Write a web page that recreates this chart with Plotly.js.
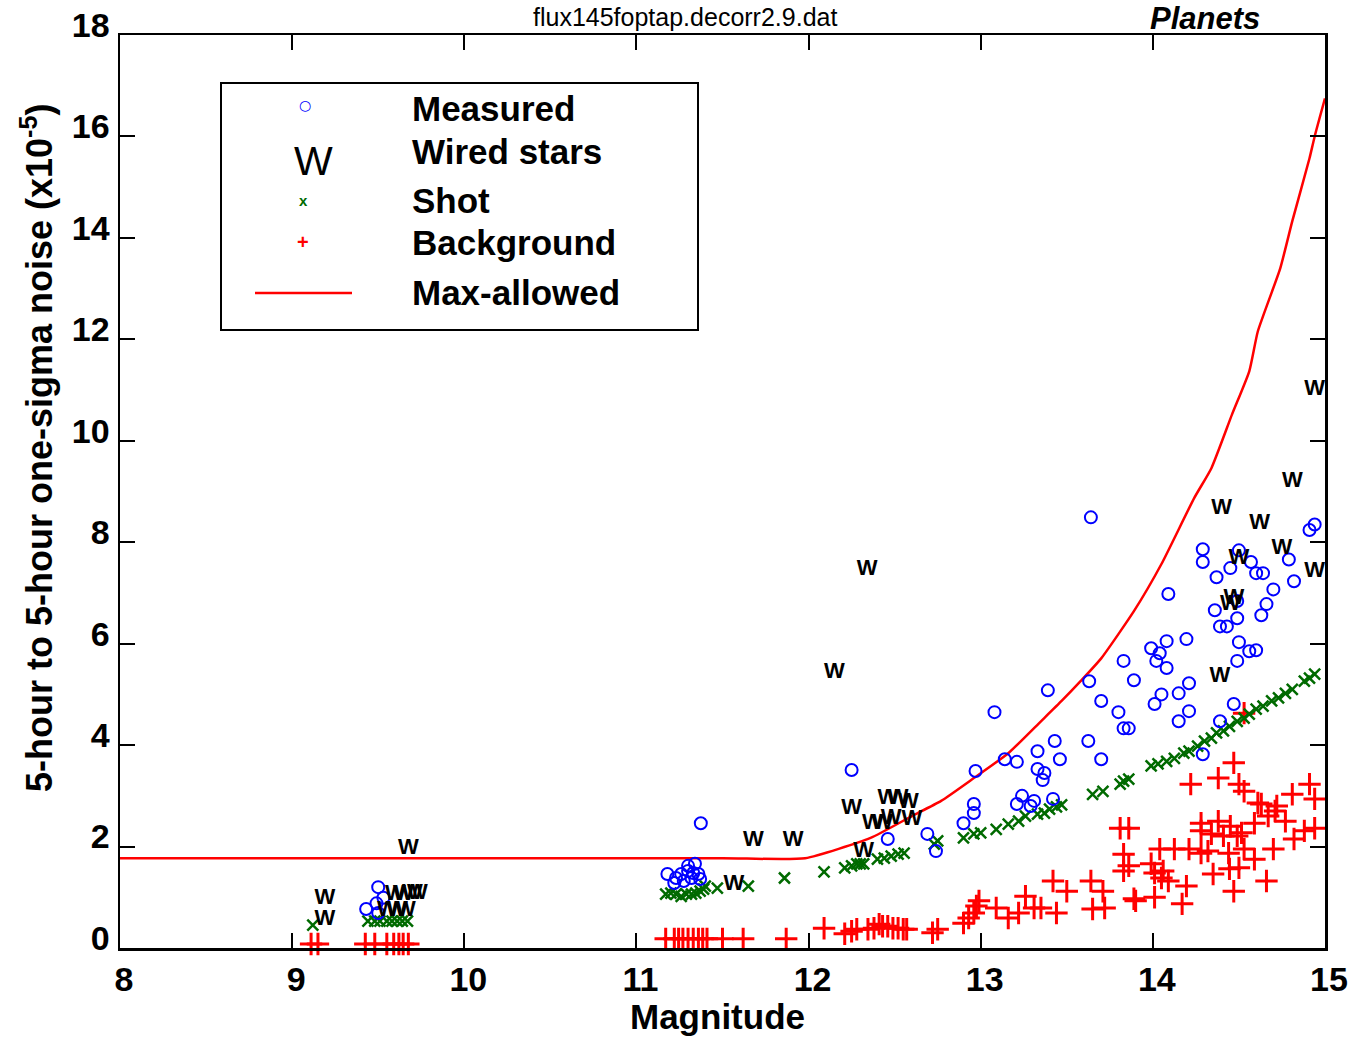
<!DOCTYPE html>
<html>
<head>
<meta charset="utf-8">
<script src="https://cdn.plot.ly/plotly-3.0.1.min.js"></script>
<style>
  html, body { margin: 0; padding: 0; background: #ffffff; }
  #plot { width: 1354px; height: 1037px; }
</style>
</head>
<body>
<div id="plot"></div>
<script>
// Measured noise per star (magnitude, noise x1e-5)
const measuredMag = [
  9.43, 9.50, 9.53, 9.49, 9.50,
  11.374, 11.18, 11.23, 11.22, 11.26, 11.275, 11.30, 11.34, 11.33, 11.36, 11.37, 11.32, 11.30,
  12.25, 12.46, 12.69, 12.74, 12.90, 12.96, 12.96, 12.97,
  13.39, 13.08, 13.70, 13.80, 13.83, 13.86, 13.63, 13.89, 13.43, 13.625, 13.33, 13.46, 13.70,
  13.14, 13.21, 13.33, 13.37, 13.36, 13.24, 13.31, 13.21, 13.29, 13.42,
  13.83, 14.02, 14.08, 14.21, 14.05, 14.01, 14.15, 14.21, 14.15, 14.47, 14.39, 14.29, 14.49, 14.56,
  14.94, 14.91, 14.29, 14.29, 14.50, 14.57, 14.45, 14.60, 14.64, 14.79, 14.82, 14.37, 14.09,
  14.70, 14.66, 14.36, 14.63, 14.39, 14.43, 14.49, 14.49, 14.08, 14.195, 13.99, 14.04, 14.50,
  14.60, 13.64
];
const measuredNoise = [
  0.77, 1.20, 0.99, 0.88, 0.69,
  2.46, 1.46, 1.38, 1.28, 1.46, 1.32, 1.62, 1.66, 1.48, 1.46, 1.36, 1.38, 1.52,
  3.51, 2.15, 2.25, 1.91, 2.46, 2.84, 2.66, 3.49,
  5.08, 4.65, 4.87, 4.65, 4.33, 4.33, 5.26, 5.28, 4.08, 4.08, 3.88, 3.72, 3.72,
  3.72, 3.67, 3.53, 3.45, 3.31, 3.00, 2.90, 2.84, 2.80, 2.94,
  5.66, 5.66, 5.52, 5.22, 5.00, 4.81, 5.02, 4.67, 4.47, 4.81, 4.47, 3.82, 5.66, 5.85,
  8.35, 8.24, 7.86, 7.61, 7.84, 7.61, 7.49, 7.39, 7.39, 7.66, 7.23, 7.31, 6.98,
  7.07, 6.78, 6.66, 6.56, 6.34, 6.34, 6.50, 6.84, 6.05, 6.09, 5.91, 5.81, 6.03,
  5.87, 8.49
];

// Wired stars
const wiredMag = [
  9.675, 9.19, 9.19, 9.600, 9.646, 9.699, 9.728, 9.553, 9.611, 9.658,
  11.68, 11.91, 11.566,
  12.34, 12.15,
  12.25, 12.46, 12.52, 12.58, 12.37, 12.43, 12.48, 12.60, 12.32,
  14.39, 14.94, 14.81, 14.40, 14.62, 14.75, 14.94, 14.50, 14.47, 14.45
];
const wiredNoise = [
  1.97, 0.97, 0.57, 1.06, 1.06, 1.08, 1.08, 0.73, 0.73, 0.73,
  2.11, 2.11, 1.26,
  7.47, 5.44,
  2.76, 2.94, 2.94, 2.86, 2.46, 2.46, 2.56, 2.54, 1.91,
  5.36, 11.01, 9.20, 8.67, 8.37, 7.88, 7.43, 7.68, 6.90, 6.78
];

// Shot-noise component
const shotMag = [
  9.12, 9.44, 9.48, 9.51, 9.55, 9.58, 9.61, 9.64, 9.67,
  11.17, 11.20, 11.23, 11.26, 11.29, 11.32, 11.345, 11.37, 11.39, 11.40, 11.47, 11.65, 11.86, 12.09,
  12.21, 12.25, 12.28, 12.30, 12.32, 12.40, 12.44, 12.48, 12.52, 12.555, 12.73, 12.75, 12.90, 12.96,
  13.00, 13.09, 13.16, 13.22, 13.26, 13.33, 13.37, 13.40, 13.44, 13.47, 13.65, 13.71, 13.81, 13.83, 13.86,
  13.99, 14.03, 14.08, 14.125, 14.18, 14.21, 14.26, 14.30, 14.34, 14.37, 14.41, 14.445, 14.49, 14.53,
  14.56, 14.60, 14.64, 14.69, 14.73, 14.77, 14.81, 14.88, 14.91, 14.94
];
const shotNoise = [
  0.45, 0.53, 0.53, 0.53, 0.53, 0.53, 0.53, 0.53, 0.53,
  1.06, 1.08, 1.06, 1.02, 1.06, 1.06, 1.08, 1.12, 1.16, 1.22, 1.18, 1.22, 1.38, 1.50,
  1.58, 1.62, 1.66, 1.66, 1.66, 1.75, 1.77, 1.81, 1.85, 1.87, 2.05, 2.11, 2.17, 2.25,
  2.27, 2.34, 2.44, 2.50, 2.60, 2.64, 2.66, 2.74, 2.78, 2.82, 3.03, 3.09, 3.23, 3.29, 3.33,
  3.59, 3.63, 3.68, 3.74, 3.84, 3.88, 3.98, 4.08, 4.14, 4.24, 4.28, 4.37, 4.47, 4.53,
  4.61, 4.71, 4.77, 4.87, 4.93, 5.02, 5.10, 5.26, 5.32, 5.40
];

// Background-noise component
const backgroundMag = [
  9.11, 9.15, 9.425, 9.48, 9.55, 9.59, 9.62, 9.645, 9.675,
  11.17, 11.22, 11.245, 11.27, 11.30, 11.33, 11.36, 11.385, 11.41, 11.50, 11.62, 11.87, 12.09,
  12.21, 12.25, 12.28, 12.345, 12.38, 12.41, 12.43, 12.46, 12.49, 12.52, 12.55, 12.57, 12.72, 12.75,
  12.90, 12.93, 12.96, 12.975, 12.99,
  13.09, 13.16, 13.22, 13.26, 13.31, 13.35, 13.42, 13.44, 13.50, 13.64, 13.71, 13.65, 13.72,
  13.81, 13.86, 13.83, 13.86, 13.83, 13.90,
  14.53, 14.47, 14.38, 14.22, 14.50, 14.53, 14.61, 14.63, 14.72, 14.81, 14.91, 14.94,
  14.59, 14.67, 14.71, 14.77, 14.28, 14.38, 14.45, 14.28, 14.34, 14.41, 14.49, 14.515,
  14.82, 14.88, 14.94, 14.04, 14.125, 14.21, 14.28, 14.32, 14.44, 14.53, 14.59, 14.70,
  13.99, 14.01, 14.06, 14.09, 14.05, 14.195, 14.35, 14.445, 14.50, 14.66, 14.47, 14.01, 13.89, 14.17
];
const backgroundNoise = [
  0.08, 0.08, 0.08, 0.08, 0.08, 0.08, 0.08, 0.08, 0.08,
  0.18, 0.18, 0.18, 0.18, 0.18, 0.18, 0.18, 0.18, 0.18, 0.18, 0.18, 0.18, 0.39,
  0.28, 0.33, 0.37, 0.37, 0.39, 0.47, 0.43, 0.43, 0.39, 0.39, 0.37, 0.37, 0.30, 0.37,
  0.49, 0.59, 0.69, 0.83, 0.93,
  0.79, 0.59, 0.69, 1.02, 0.79, 0.79, 1.32, 0.69, 1.12, 1.32, 1.12, 0.77, 0.79,
  2.36, 2.36, 1.85, 1.62, 1.52, 0.93,
  4.63, 3.65, 3.35, 3.23, 3.23, 3.09, 2.86, 2.84, 2.80, 3.03, 3.23, 2.94,
  2.46, 2.60, 2.70, 2.50, 2.46, 2.50, 2.40, 2.31, 2.25, 2.21, 2.21, 2.27,
  2.15, 2.31, 2.36, 1.95, 1.95, 1.95, 1.87, 1.91, 1.87, 1.95, 1.75, 1.95,
  1.66, 1.48, 1.52, 1.32, 1.38, 1.22, 1.46, 1.56, 1.58, 1.32, 1.12, 1.00, 0.97, 0.87
];

// Maximum allowed noise curve
const maxAllowedMag = [
  8.00, 11.50, 11.98, 12.36, 12.60, 12.77, 12.96, 13.16, 13.35, 13.47, 13.58, 13.70, 13.89,
  14.05, 14.24, 14.34, 14.46, 14.56, 14.61, 14.74, 14.81, 14.91, 14.94, 15.00
];
const maxAllowedNoise = [
  1.77, 1.77, 1.77, 2.17, 2.60, 2.90, 3.35, 3.84, 4.47, 4.87, 5.26, 5.71, 6.64,
  7.57, 8.87, 9.46, 10.52, 11.37, 12.16, 13.40, 14.33, 15.57, 16.00, 16.75
];

// Legend entries and texts
const legendLabels = ['Measured', 'Wired stars', 'Shot', 'Background', 'Max-allowed'];
const chartTitle = 'flux145foptap.decorr2.9.dat';
const cornerLabel = 'Planets';
const xTitle = 'Magnitude';
const yTitle = '5-hour to 5-hour one-sigma noise (x10<sup>-5</sup>)';

// Plot-area frame in page pixels, used to place legend and labels
const L = 120, R = 1325, T = 35, B = 948;
const px = x => (x - L) / (R - L);
const py = y => (B - y) / (B - T);

const FONT = 'Liberation Sans, Arial, sans-serif';
const BLUE = '#0000ff', GREEN = '#006a00', RED = '#ff0000';

const traces = [
  {
    x: maxAllowedMag, y: maxAllowedNoise, mode: 'lines', name: legendLabels[4],
    line: { color: RED, width: 2.5, shape: 'spline', smoothing: 0.5 }, showlegend: false, hoverinfo: 'skip'
  },
  {
    x: backgroundMag, y: backgroundNoise, mode: 'markers', name: legendLabels[3],
    marker: { symbol: 'cross-thin-open', size: 16, color: RED, line: { color: RED, width: 3 } },
    showlegend: false, cliponaxis: false
  },
  {
    x: shotMag, y: shotNoise, mode: 'markers', name: legendLabels[2],
    marker: { symbol: 'x-thin-open', size: 11, color: GREEN, line: { color: GREEN, width: 2.5 } },
    showlegend: false
  },
  {
    x: measuredMag, y: measuredNoise, mode: 'markers', name: legendLabels[0],
    marker: { symbol: 'circle-open', size: 12, color: BLUE, line: { color: BLUE, width: 2 } },
    showlegend: false
  },
  {
    x: wiredMag, y: wiredNoise, mode: 'text', name: legendLabels[1],
    text: wiredMag.map(() => 'W'), textposition: 'middle center',
    textfont: { family: FONT, size: 22, color: '#000000', weight: 'bold' },
    showlegend: false
  }
];

// Annotation placed by page-pixel centre
function label(x, y, text, font, extra) {
  return Object.assign({
    xref: 'paper', yref: 'paper', x: px(x), y: py(y),
    xanchor: 'center', yanchor: 'middle', showarrow: false, text: text, font: font
  }, extra || {});
}

// Legend drawn as a framed box with sample glyphs
const legendRows = [109, 152, 200, 242, 293];
const annotations = [];
legendLabels.forEach((lab, i) => {
  annotations.push(label(410, legendRows[i], lab,
    { family: FONT, size: 35, color: '#000000', weight: 'bold' }, { xanchor: 'left' }));
});
annotations.push(
  label(305, 105, '○', { family: 'DejaVu Sans', size: 14, color: BLUE, weight: 'bold' }),
  label(313, 161, 'W', { family: FONT, size: 41, color: '#000000' }),
  label(303, 200, 'x', { family: FONT, size: 15, color: GREEN, weight: 'bold' }),
  label(303, 242, '+', { family: FONT, size: 20, color: RED, weight: 'bold' }),
  // titles
  label(685, 17, chartTitle,
    { family: 'Liberation Sans Narrow, Liberation Sans, Arial, sans-serif', size: 25, color: '#000000' }),
  label(1262, 18, cornerLabel,
    { family: FONT, size: 31, color: '#000000', weight: 'bold', style: 'italic' }, { xanchor: 'right' }),
  label(717, 1016, xTitle, { family: FONT, size: 35, color: '#000000', weight: 'bold' }),
  label(37, 448, yTitle, { family: FONT, size: 36, color: '#000000', weight: 'bold' }, { textangle: -90 })
);

const shapes = [
  { type: 'rect', xref: 'paper', yref: 'paper', x0: px(221), x1: px(698), y0: py(330), y1: py(83),
    line: { color: '#000000', width: 2 }, fillcolor: '#ffffff', layer: 'below' },
  { type: 'line', xref: 'paper', yref: 'paper', x0: px(255), x1: px(352), y0: py(293), y1: py(293),
    line: { color: RED, width: 2.5 } }
];

const axisCommon = {
  showgrid: false, zeroline: false, showline: true, linecolor: '#000000', linewidth: 2.5,
  mirror: 'ticks', ticks: 'inside', ticklen: 15, tickwidth: 2, tickcolor: '#000000',
  tickfont: { family: FONT, size: 34, color: '#000000', weight: 'bold' }
};

const layout = {
  width: 1354, height: 1037,
  margin: { l: L, r: 1354 - R, t: T, b: 1037 - B, pad: 0 },
  paper_bgcolor: '#ffffff', plot_bgcolor: '#ffffff',
  showlegend: false,
  xaxis: Object.assign({}, axisCommon, {
    range: [8, 15], tickmode: 'linear', tick0: 8, dtick: 1,
    ticklabelstandoff: 0, ticklabelshift: 4
  }),
  yaxis: Object.assign({}, axisCommon, {
    range: [0, 18], tickmode: 'linear', tick0: 0, dtick: 2,
    ticklabelstandoff: 1, ticklabelshift: -10
  }),
  annotations: annotations,
  shapes: shapes
};

Plotly.newPlot('plot', traces, layout, { displayModeBar: false, staticPlot: true });
</script>
</body>
</html>
